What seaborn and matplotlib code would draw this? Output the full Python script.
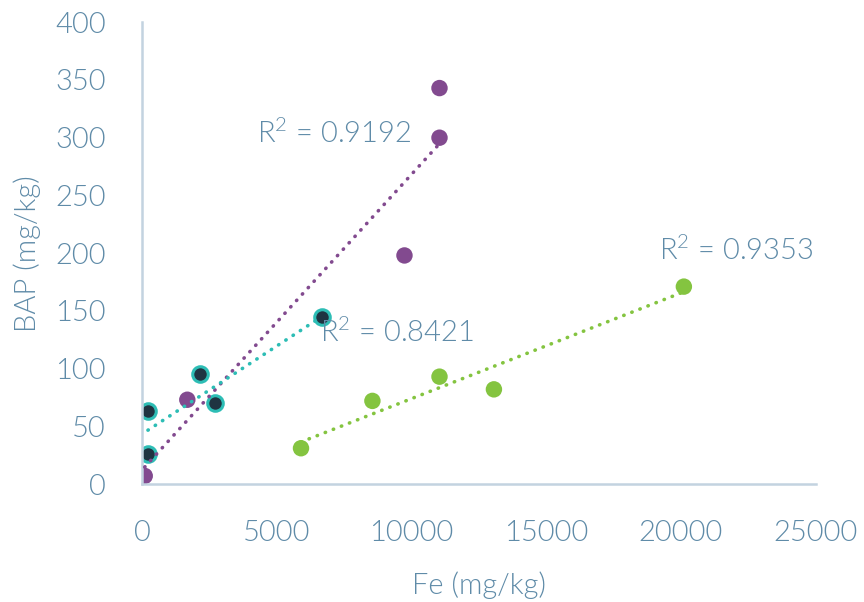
import pandas as pd
import numpy as np
import seaborn as sns
import matplotlib.pyplot as plt

# data
fe_purple = [100, 1680, 9740, 11040, 11040]
bap_purple = [7, 73, 198, 300, 343]

fe_teal = [220, 220, 2160, 2690, 6680]
bap_teal = [63, 26, 95, 70, 145]

fe_green = [5900, 8550, 11040, 13060, 20110]
bap_green = [31, 72, 93, 82, 171]

r2_labels = ['R$^2$ = 0.9192', 'R$^2$ = 0.8421', 'R$^2$ = 0.9353']

x_ticks = [0, 5000, 10000, 15000, 20000, 25000]
y_ticks = [0, 50, 100, 150, 200, 250, 300, 350, 400]

df = pd.concat([
    pd.DataFrame({'Fe': fe_purple, 'BAP': bap_purple, 'set': 'purple'}),
    pd.DataFrame({'Fe': fe_teal, 'BAP': bap_teal, 'set': 'teal'}),
    pd.DataFrame({'Fe': fe_green, 'BAP': bap_green, 'set': 'green'}),
], ignore_index=True)

txt = '#5f8ba8'
axis_col = '#c3d3e0'
purple = '#824a8f'
teal = '#2dbdb5'
dark = '#1f3442'
green = '#84c440'

sns.set_style('white')
plt.rcParams['font.family'] = ['Lato', 'DejaVu Sans']
plt.rcParams['mathtext.default'] = 'regular'
fs = 21
fw = 300

fig = plt.figure(figsize=(8.64, 6.02), dpi=100)
ax = fig.add_axes([0.1644, 0.196, 0.7796, 0.767])

# markers
sns.scatterplot(data=df[df['set'] == 'purple'], x='Fe', y='BAP', color=purple,
                s=140, edgecolor='none', ax=ax, zorder=2)
sns.scatterplot(data=df[df['set'] == 'teal'], x='Fe', y='BAP', color=dark,
                s=125, edgecolor=teal, linewidth=2.2, ax=ax, zorder=2)
sns.scatterplot(data=df[df['set'] == 'green'], x='Fe', y='BAP', color=green,
                s=140, edgecolor='none', ax=ax, zorder=2)

# dotted linear trendlines
for name, col in [('purple', purple), ('teal', teal), ('green', green)]:
    sub = df[df['set'] == name]
    sns.regplot(data=sub, x='Fe', y='BAP', scatter=False, ci=None, truncate=True,
                ax=ax, line_kws={'color': col, 'lw': 2.6, 'ls': (0, (0.1, 2.3)),
                                 'dash_capstyle': 'round', 'zorder': 3})

ax.text(7140, 304, r2_labels[0], color=txt, fontsize=fs, fontweight=fw,
        ha='center', va='center')
ax.text(9460, 131, r2_labels[1], color=txt, fontsize=fs, fontweight=fw,
        ha='center', va='center')
ax.text(22070, 202, r2_labels[2], color=txt, fontsize=fs, fontweight=fw,
        ha='center', va='center')

ax.set_xlim(0, 25000)
ax.set_ylim(0, 400)
ax.set_xticks(x_ticks)
ax.set_yticks(y_ticks)
ax.tick_params(axis='both', colors=txt, labelsize=fs, length=0, pad=26)
ax.tick_params(axis='y', pad=26)
for lab in ax.get_xticklabels() + ax.get_yticklabels():
    lab.set_fontweight(fw)

ax.set_xlabel('Fe (mg/kg)', color=txt, fontsize=fs, fontweight=fw, labelpad=18)
ax.set_ylabel('BAP (mg/kg)', color=txt, fontsize=fs, fontweight=fw, labelpad=10)

for side in ['top', 'right']:
    ax.spines[side].set_visible(False)
for side in ['left', 'bottom']:
    ax.spines[side].set_color(axis_col)
    ax.spines[side].set_linewidth(1.8)

fig.savefig('out.png', dpi=100)
